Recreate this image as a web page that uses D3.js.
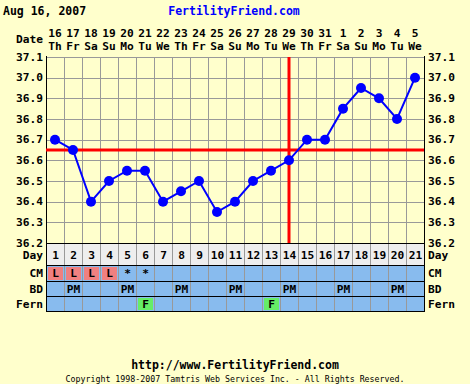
<!DOCTYPE html>
<html>
<head>
<meta charset="utf-8">
<script src="https://cdn.jsdelivr.net/npm/d3@7"></script>
<style>
  html, body { margin: 0; padding: 0; background: #FFFFCC; }
  svg { display: block; }
  text { font-family: "DejaVu Sans Mono", "Liberation Mono", monospace; font-weight: bold; fill: #000; }
</style>
</head>
<body>
<svg id="chart" width="470" height="384"></svg>
<script>
// Cycle days and calendar dates
const cycleDays = d3.range(1, 22);
const dateNums = ["16","17","18","19","20","21","22","23","24","25","26","27","28","29","30","31","1","2","3","4","5"];
const weekdays = ["Th","Fr","Sa","Su","Mo","Tu","We","Th","Fr","Sa","Su","Mo","Tu","We","Th","Fr","Sa","Su","Mo","Tu","We"];

// Basal body temperatures (°C)
const temps = [36.70, 36.65, 36.40, 36.50, 36.55, 36.55, 36.40, 36.45, 36.50, 36.35, 36.40,
               36.50, 36.55, 36.60, 36.70, 36.70, 36.85, 36.95, 36.90, 36.80, 37.00];
const tempTicks = [36.2, 36.3, 36.4, 36.5, 36.6, 36.7, 36.8, 36.9, 37.0, 37.1];

// Coverline and ovulation day
const coverline = 36.65;
const ovulationDay = 14;

// Observation rows
const cmValues = ["L","L","L","L","*","*","","","","","","","","","","","","","","",""];
const bdValues = ["","PM","","","PM","","","PM","","","PM","","","PM","","","PM","","","PM",""];
const fernValues = ["","","","","","F","","","","","","","F","","","","","","","",""];
const rowLabels = ["CM", "BD", "Fern"];

const FS = 11.2;
const svg = d3.select("#chart");

const x = d3.scaleBand().domain(cycleDays).range([46, 424]);
const y = d3.scaleLinear().domain([36.2, 37.1]).range([243, 57]);
const cx = d => x(d) + x.bandwidth() / 2;

// Table rows: [top, bottom]
const dayRow = [243, 265];
const obsRows = [[265, 281], [281, 296], [296, 311]];

// Header
svg.append("text").attr("x", 3).attr("y", 15).attr("font-size", 11.5).text("Aug 16, 2007");
svg.append("text").attr("x", 234).attr("y", 15).attr("font-size", 11.5)
  .attr("text-anchor", "middle").style("fill", "#0000FF").text("FertilityFriend.com");

// Date header
svg.append("text").attr("x", 43).attr("y", 43).attr("font-size", FS)
  .attr("text-anchor", "end").text("Date");
svg.append("g").selectAll("text").data(cycleDays).join("text")
  .attr("x", d => cx(d)).attr("y", 37).attr("font-size", FS)
  .attr("text-anchor", "middle").text((d, i) => dateNums[i]);
svg.append("g").selectAll("text").data(cycleDays).join("text")
  .attr("x", d => cx(d)).attr("y", 50).attr("font-size", FS)
  .attr("text-anchor", "middle").text((d, i) => weekdays[i]);

// Table backgrounds
svg.append("rect").attr("x", 46).attr("y", dayRow[0]).attr("width", 378)
  .attr("height", dayRow[1] - dayRow[0]).attr("fill", "#EEEEEE");
svg.append("rect").attr("x", 46).attr("y", obsRows[0][0]).attr("width", 378)
  .attr("height", obsRows[2][1] - obsRows[0][0]).attr("fill", "#88BBEE");

// CM / Fern highlighted cells
const cellFill = { L: "#F08080", F: "#66EE66" };
function cells(values, row) {
  svg.append("g").selectAll("rect")
    .data(cycleDays.filter((d, i) => cellFill[values[i]]))
    .join("rect")
    .attr("x", d => x(d) + 2).attr("y", row[0] + 2)
    .attr("width", x.bandwidth() - 3).attr("height", row[1] - row[0] - 3)
    .attr("fill", d => cellFill[values[d - 1]]);
}
cells(cmValues, obsRows[0]);
cells(fernValues, obsRows[2]);

// Horizontal temperature grid
svg.append("g").selectAll("line").data(tempTicks).join("line")
  .attr("x1", 46).attr("x2", 424).attr("y1", d => Math.round(y(d)) + 0.5).attr("y2", d => Math.round(y(d)) + 0.5)
  .attr("stroke", "#999999");

// Vertical grid through chart and table
svg.append("g").selectAll("line").data(cycleDays.slice(1)).join("line")
  .attr("x1", d => x(d) + 0.5).attr("x2", d => x(d) + 0.5)
  .attr("y1", 57).attr("y2", 311)
  .attr("stroke", "#999999");

// Dark row separators and frame
[dayRow[0], dayRow[1], obsRows[0][1], obsRows[1][1], obsRows[2][1]].forEach(yy => {
  svg.append("line").attr("x1", 46).attr("x2", 425).attr("y1", yy + 0.5).attr("y2", yy + 0.5)
    .attr("stroke", "#000").attr("stroke-width", 1);
});
[46, 424].forEach(xx => {
  svg.append("line").attr("x1", xx + 0.5).attr("x2", xx + 0.5).attr("y1", 56).attr("y2", 312)
    .attr("stroke", "#000");
});

// Axis labels both sides
svg.append("g").selectAll("text").data(tempTicks).join("text")
  .attr("x", 43).attr("y", d => y(d) + 3.5).attr("font-size", FS)
  .attr("text-anchor", "end").text(d => d.toFixed(1));
svg.append("g").selectAll("text").data(tempTicks).join("text")
  .attr("x", 428).attr("y", d => y(d) + 3.5).attr("font-size", FS)
  .text(d => d.toFixed(1));

// Row labels
const labelRows = [["Day", dayRow, 259]].concat(rowLabels.map((l, i) => [l, obsRows[i], (obsRows[i][0] + obsRows[i][1]) / 2 + 4]));
labelRows.forEach(([label, row, yb]) => {
  svg.append("text").attr("x", 43).attr("y", yb).attr("font-size", FS)
    .attr("text-anchor", "end").text(label);
  svg.append("text").attr("x", 428).attr("y", yb).attr("font-size", FS).text(label);
});

// Day numbers
svg.append("g").selectAll("text").data(cycleDays).join("text")
  .attr("x", d => cx(d) + 0.5).attr("y", 259).attr("font-size", FS)
  .attr("text-anchor", "middle").text(d => d);

// Observation texts
[cmValues, bdValues, fernValues].forEach((vals, r) => {
  const row = obsRows[r];
  svg.append("g").selectAll("text").data(cycleDays.filter((d, i) => vals[i])).join("text")
    .attr("x", d => cx(d) + 0.5).attr("y", (row[0] + row[1]) / 2 + 4).attr("font-size", FS)
    .attr("text-anchor", "middle").text(d => vals[d - 1]);
});

// Coverline and ovulation line
svg.append("line").attr("x1", 46).attr("x2", 424)
  .attr("y1", y(coverline)).attr("y2", y(coverline))
  .attr("stroke", "#FF0000").attr("stroke-width", 3);
svg.append("line").attr("x1", cx(ovulationDay)).attr("x2", cx(ovulationDay))
  .attr("y1", 57).attr("y2", 243)
  .attr("stroke", "#FF0000").attr("stroke-width", 3);

// Temperature line and points
const line = d3.line().x((d, i) => cx(cycleDays[i])).y(d => y(d));
svg.append("path").datum(temps).attr("d", line)
  .attr("fill", "none").attr("stroke", "#0000FF").attr("stroke-width", 2);
svg.append("g").selectAll("circle").data(temps).join("circle")
  .attr("cx", (d, i) => cx(cycleDays[i])).attr("cy", d => y(d)).attr("r", 5)
  .attr("fill", "#0000FF");

// Footer
svg.append("text").attr("x", 235).attr("y", 369).attr("font-size", 11.5)
  .attr("text-anchor", "middle").text("http://www.FertilityFriend.com");
svg.append("text").attr("x", 235).attr("y", 382).attr("font-size", 8)
  .attr("text-anchor", "middle").style("font-weight", "normal")
  .attr("textLength", 339).attr("lengthAdjust", "spacingAndGlyphs")
  .text("Copyright 1998-2007 Tamtris Web Services Inc. - All Rights Reserved.");
</script>
</body>
</html>
